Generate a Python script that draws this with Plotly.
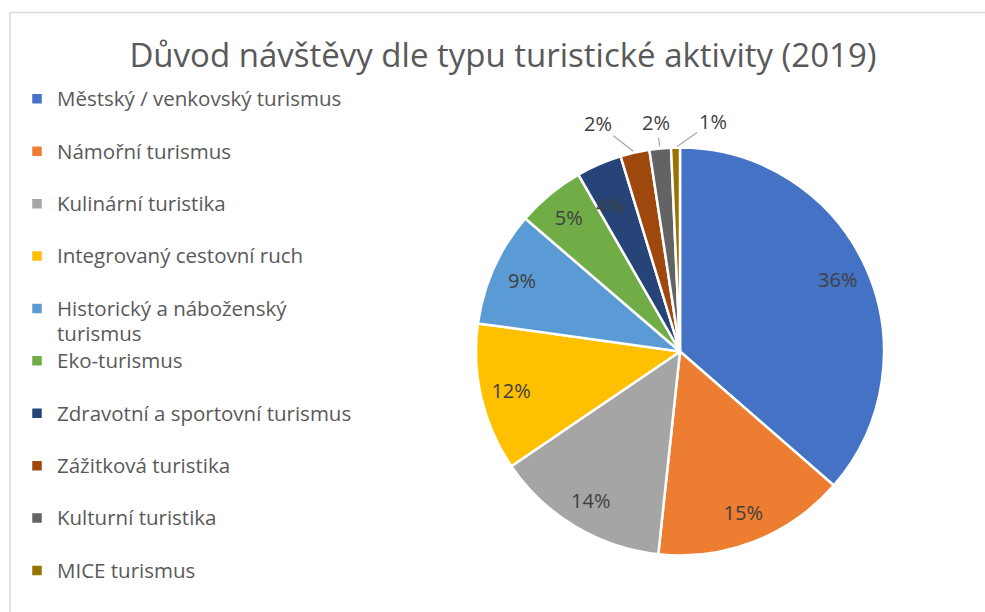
import math
import plotly.graph_objects as go

categories = [
    "Městský / venkovský turismus",
    "Námořní turismus",
    "Kulinární turistika",
    "Integrovaný cestovní ruch",
    "Historický a náboženský<br>turismus",
    "Eko-turismus",
    "Zdravotní a sportovní turismus",
    "Zážitková turistika",
    "Kulturní turistika",
    "MICE turismus",
]
values = [36.4, 15.3, 13.8, 11.7, 9.1, 5.4, 3.6, 2.3, 1.7, 0.7]
colors = ["#4472C4", "#ED7D31", "#A5A5A5", "#FFC000", "#5B9BD5",
          "#70AD47", "#264478", "#9E480E", "#636363", "#997300"]
# how each percentage label is drawn: 'ring' = pie's own inside text, 'free' = annotation near rim,
# 'leader' = outside label with leader line
label_mode = ["ring"] * 6 + ["free"] + ["leader"] * 3
leader_offsets = {7: (-37, -29), 8: (-4, -26), 9: (37, -26)}

W, H = 985, 612
FONT = "Open Sans"
CX, CY, R = 680, 351.5, 204
TXT = "#404040"
LEG_TXT = "#595959"

legend_labels = [
    '<span style="font-size:20.5px">' + (c if "<br>" in c else c + "<br> ") + "</span>"
    for c in categories
]
dom = dict(x=[(CX - R) / W, (CX + R) / W], y=[(H - CY - R) / H, (H - CY + R) / H])

total = sum(values)
pct = [v / total for v in values]
pct_text = [f"{round(p * 100):d}%" for p in pct]

fig = go.Figure()
# main pie (slices + legend)
fig.add_trace(go.Pie(
    labels=legend_labels,
    values=values,
    sort=False,
    direction="clockwise",
    rotation=0,
    marker=dict(colors=colors, line=dict(color="white", width=2.5)),
    textinfo="none",
    hoverinfo="percent",
    domain=dom,
))
# transparent ring on top, used only to place the inside percentage labels near the rim
fig.add_trace(go.Pie(
    labels=legend_labels,
    values=values,
    sort=False,
    direction="clockwise",
    rotation=0,
    hole=0.7,
    showlegend=False,
    hoverinfo="skip",
    marker=dict(colors=["rgba(0,0,0,0)"] * len(values), line=dict(width=0)),
    text=[t if m == "ring" else "" for t, m in zip(pct_text, label_mode)],
    textinfo="text",
    textposition=["inside" if m == "ring" else "none" for m in label_mode],
    insidetextorientation="horizontal",
    insidetextfont=dict(family=FONT, size=20, color=TXT),
    domain=dom,
))

annotations = []
cum = 0.0
for i, p in enumerate(pct):
    mid = cum + p / 2
    cum += p
    if label_mode[i] == "ring":
        continue
    th = 2 * math.pi * mid
    if label_mode[i] == "free":
        rr = 0.86 * R
        annotations.append(dict(
            x=(CX + rr * math.sin(th)) / W, y=1 - (CY - rr * math.cos(th)) / H,
            xref="paper", yref="paper", showarrow=False, text=pct_text[i],
            font=dict(family=FONT, size=20, color=TXT),
        ))
    else:
        dx, dy = leader_offsets[i]
        annotations.append(dict(
            x=(CX + R * math.sin(th)) / W, y=1 - (CY - R * math.cos(th)) / H,
            xref="paper", yref="paper",
            ax=dx, ay=dy, axref="pixel", ayref="pixel",
            text=pct_text[i], showarrow=True, arrowhead=0, arrowwidth=1.2,
            arrowcolor="#A6A6A6", standoff=2,
            font=dict(family=FONT, size=20, color=TXT),
        ))

fig.update_layout(
    width=W, height=H,
    margin=dict(l=0, r=0, t=0, b=0, autoexpand=False),
    paper_bgcolor="white",
    plot_bgcolor="white",
    title=dict(text="Důvod návštěvy dle typu turistické aktivity (2019)",
               x=503 / W, xanchor="center", y=1 - 55 / H, yanchor="middle",
               font=dict(family=FONT, size=33, color=LEG_TXT)),
    legend=dict(x=17 / W, xanchor="left", y=1 - 80 / H, yanchor="top",
                font=dict(family=FONT, size=19, color=LEG_TXT),
                valign="top", bgcolor="rgba(0,0,0,0)"),
    annotations=annotations,
    shapes=[dict(type="rect", xref="paper", yref="paper",
                 x0=10 / W, x1=1.02, y0=-0.05, y1=1 - 12.5 / H,
                 line=dict(color="#D9D9D9", width=1.5), layer="below")],
)

fig.write_html("out.html", config={"displayModeBar": False},
               post_script="document.body.style.margin='0';")
